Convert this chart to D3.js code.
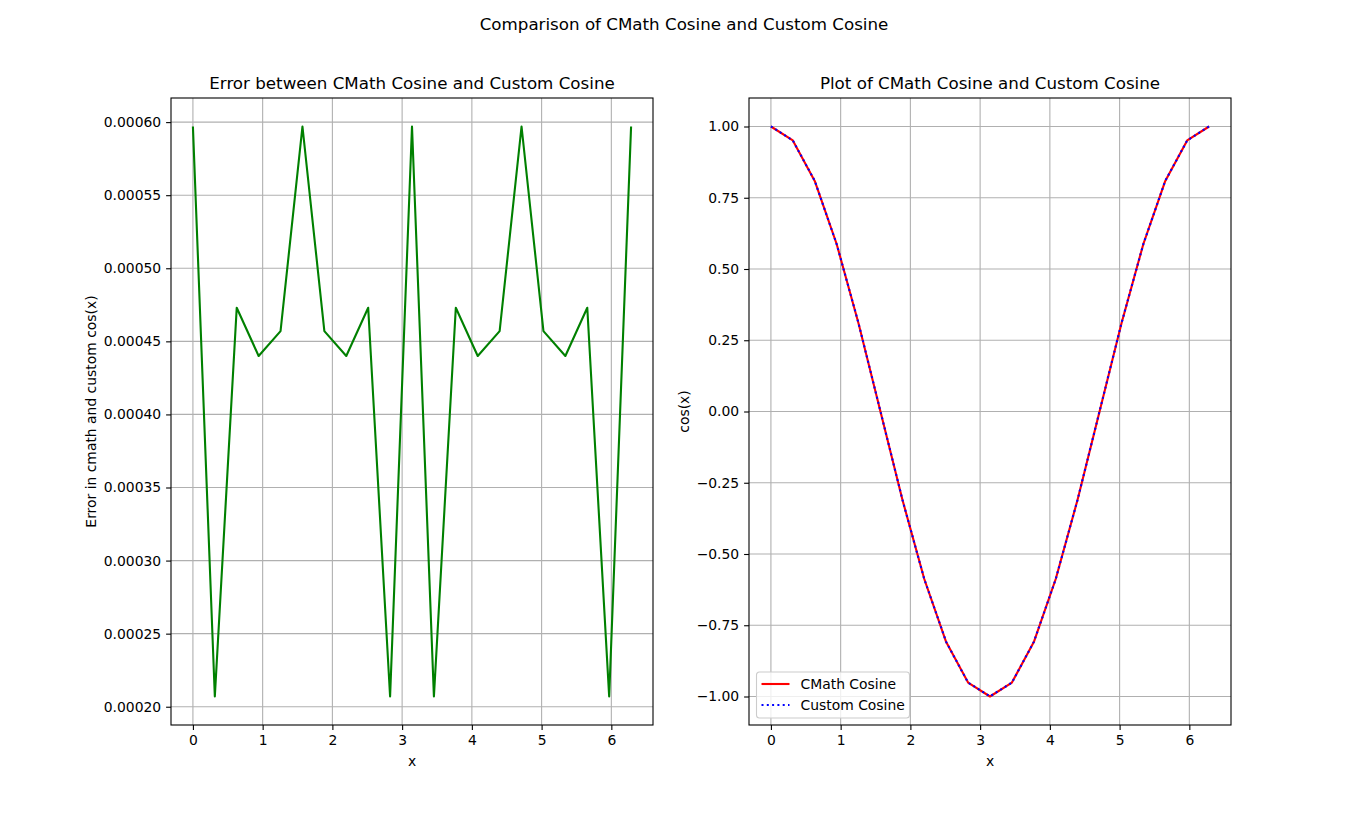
<!DOCTYPE html>
<html>
<head>
<meta charset="utf-8">
<script src="https://cdn.jsdelivr.net/npm/d3@7"></script>
<style>
  body { margin: 0; background: #fff; }
  text { font-family: "DejaVu Sans", sans-serif; fill: #000; }
</style>
</head>
<body>
<div id="chart"></div>
<script>
// x samples, 0 .. 2*pi in 20 steps
var xs = [0, 0.3142, 0.6283, 0.9425, 1.2566, 1.5708, 1.8850, 2.1991, 2.5133, 2.8274, 3.1416,
  3.4558, 3.7699, 4.0841, 4.3982, 4.7124, 5.0265, 5.3407, 5.6549, 5.9690, 6.2832];

var errorVals = [0.000597, 0.000207, 0.000473, 0.000440, 0.000457, 0.000597, 0.000457, 0.000440,
  0.000473, 0.000207, 0.000597, 0.000207, 0.000473, 0.000440, 0.000457, 0.000597, 0.000457,
  0.000440, 0.000473, 0.000207, 0.000597];

var cmathVals = [1.0, 0.9511, 0.8090, 0.5878, 0.3090, 0.0, -0.3090, -0.5878, -0.8090, -0.9511, -1.0,
  -0.9511, -0.8090, -0.5878, -0.3090, 0.0, 0.3090, 0.5878, 0.8090, 0.9511, 1.0];

var customVals = [1.0006, 0.9509, 0.8095, 0.5874, 0.3095, 0.0006, -0.3086, -0.5882, -0.8085, -0.9513, -0.9994,
  -0.9513, -0.8085, -0.5882, -0.3086, 0.0006, 0.3095, 0.5874, 0.8095, 0.9509, 1.0006];

var xTicks = [0, 1, 2, 3, 4, 5, 6];
var errTicks = [0.00020, 0.00025, 0.00030, 0.00035, 0.00040, 0.00045, 0.00050, 0.00055, 0.00060];
var cosTicks = [-1.00, -0.75, -0.50, -0.25, 0.00, 0.25, 0.50, 0.75, 1.00];

var svgWidth = 1368;
var svgHeight = 815;

var svg = d3.select("#chart")
  .append("svg")
  .attr("width", svgWidth)
  .attr("height", svgHeight);

svg.append("text")
  .attr("x", 684)
  .attr("y", 30)
  .attr("text-anchor", "middle")
  .attr("font-size", "16.7px")
  .text("Comparison of CMath Cosine and Custom Cosine");

function drawPanel(opts) {
  var left = opts.left, top = 98, w = 482, h = 627;
  var g = svg.append("g").attr("transform", `translate(${left}, ${top})`);

  var xScale = d3.scaleLinear().domain([-0.3142, 6.5974]).range([0, w]);
  var yScale = d3.scaleLinear().domain(opts.yDomain).range([h, 0]);

  // grid
  g.append("g").selectAll("line")
    .data(xTicks).enter().append("line")
    .attr("x1", d => xScale(d)).attr("x2", d => xScale(d))
    .attr("y1", 0).attr("y2", h)
    .attr("stroke", "#b0b0b0").attr("stroke-width", 1.1);
  g.append("g").selectAll("line")
    .data(opts.yTicks).enter().append("line")
    .attr("y1", d => yScale(d)).attr("y2", d => yScale(d))
    .attr("x1", 0).attr("x2", w)
    .attr("stroke", "#b0b0b0").attr("stroke-width", 1.1);

  var line = d3.line().x((d, i) => xScale(xs[i])).y(d => yScale(d));
  opts.series.forEach(function(s) {
    g.append("path")
      .datum(s.values)
      .attr("d", line)
      .attr("fill", "none")
      .attr("stroke", s.color)
      .attr("stroke-width", 2.1)
      .attr("stroke-linejoin", "round")
      .attr("stroke-dasharray", s.dash || null);
  });

  var xAxis = d3.axisBottom(xScale).tickValues(xTicks).tickFormat(d3.format("d"))
    .tickSizeOuter(0).tickSize(4.9).tickPadding(4.9);
  var yAxis = d3.axisLeft(yScale).tickValues(opts.yTicks).tickFormat(opts.yFormat)
    .tickSizeOuter(0).tickSize(4.9).tickPadding(4.9);

  var xa = g.append("g").attr("transform", `translate(0, ${h})`).call(xAxis);
  var ya = g.append("g").call(yAxis);
  [xa, ya].forEach(function(a) {
    a.select(".domain").remove();
    a.selectAll("line").attr("stroke", "#000").attr("stroke-width", 1.1);
    a.selectAll("text").attr("font-size", "13.9px").attr("font-family", "DejaVu Sans, sans-serif").attr("fill", "#000");
  });

  g.append("rect")
    .attr("width", w).attr("height", h)
    .attr("fill", "none").attr("stroke", "#000").attr("stroke-width", 1.1);

  g.append("text")
    .attr("x", w / 2).attr("y", -9)
    .attr("text-anchor", "middle")
    .attr("font-size", "16.7px")
    .text(opts.title);

  g.append("text")
    .attr("x", w / 2).attr("y", h + 41)
    .attr("text-anchor", "middle")
    .attr("font-size", "13.9px")
    .text("x");

  g.append("text")
    .attr("transform", "rotate(-90)")
    .attr("x", -h / 2).attr("y", opts.yLabelX)
    .attr("text-anchor", "middle")
    .attr("font-size", "13.9px")
    .text(opts.yLabel);

  return { g: g, w: w, h: h };
}

drawPanel({
  left: 171,
  yDomain: [0.0001875, 0.0006165],
  yTicks: errTicks,
  yFormat: d3.format(".5f"),
  title: "Error between CMath Cosine and Custom Cosine",
  yLabel: "Error in cmath and custom cos(x)",
  yLabelX: -75,
  series: [{ values: errorVals, color: "#008000" }]
});

var right = drawPanel({
  left: 749,
  yDomain: [-1.1, 1.1],
  yTicks: cosTicks,
  yFormat: d => d3.format(".2f")(d).replace("-", "\u2212"),
  title: "Plot of CMath Cosine and Custom Cosine",
  yLabel: "cos(x)",
  yLabelX: -60,
  series: [
    { values: cmathVals, color: "#ff0000" },
    { values: customVals, color: "#0000ff", dash: "2,3.3" }
  ]
});

// legend
var leg = right.g.append("g").attr("transform", `translate(7.5, ${right.h - 53})`);
leg.append("rect")
  .attr("width", 153).attr("height", 46)
  .attr("rx", 3)
  .attr("fill", "#fff").attr("fill-opacity", 0.8)
  .attr("stroke", "#cccccc").attr("stroke-width", 1.1);
var legItems = [
  { label: "CMath Cosine", color: "#ff0000" },
  { label: "Custom Cosine", color: "#0000ff", dash: "2,3.3" }
];
legItems.forEach(function(item, i) {
  var y = 12 + i * 21;
  leg.append("line")
    .attr("x1", 5).attr("x2", 33)
    .attr("y1", y).attr("y2", y)
    .attr("stroke", item.color).attr("stroke-width", 2.1)
    .attr("stroke-dasharray", item.dash || null);
  leg.append("text")
    .attr("x", 44).attr("y", y + 5)
    .attr("font-size", "13.9px")
    .text(item.label);
});
</script>
</body>
</html>
